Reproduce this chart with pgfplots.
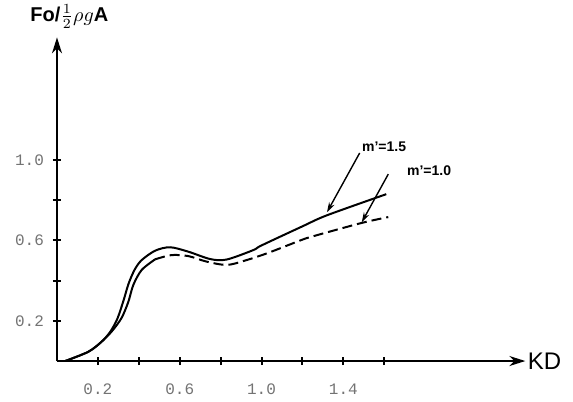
\documentclass[border=0pt]{standalone}
\usepackage{pgfplots}
\pgfplotsset{compat=1.18}
\usepackage{fontspec}
\setmainfont{Liberation Sans}
\newfontfamily\monofont{Liberation Mono}
\usetikzlibrary{arrows.meta}
\begin{document}
\begin{tikzpicture}
\begin{axis}[
  x=102.25pt, y=100.5pt,
  xmin=0, xmax=2.29, ymin=0, ymax=1.61,
  axis lines=left,
  axis line style={line width=1pt, -{Stealth[length=8pt,width=5pt]}},
  xtick={0.2,0.4,0.6,0.8,1.0,1.2,1.4,1.6},
  xticklabels={0.2,,0.6,,1.0,,1.4,},
  ytick={0.2,0.4,0.6,0.8,1.0},
  yticklabels={0.2,,0.6,,1.0},
  tick align=center, major tick length=4pt,
  tick style={line width=1pt, black},
  xticklabel style={font=\monofont\fontsize{8}{8}\selectfont, text=black!55, yshift=-6pt},
  yticklabel style={font=\monofont\fontsize{8}{8}\selectfont, text=black!55, xshift=-1pt},
  clip=false,
]
% m'=1.5 (solid)
\addplot[black, line width=1pt, smooth] coordinates {
(0.04,0) (0.153,0.046) (0.218,0.096) (0.26,0.145) (0.295,0.21) (0.325,0.30)
(0.35,0.385) (0.38,0.455) (0.414,0.502) (0.48,0.549) (0.553,0.566)
(0.642,0.544) (0.75,0.507) (0.83,0.505) (0.96,0.552) (1.0,0.575)
(1.2,0.67) (1.32,0.725) (1.61,0.83)};
% m'=1.0 (solid in rise, dashed after)
\addplot[black, line width=1pt, smooth] coordinates {
(0.04,0) (0.153,0.046) (0.218,0.096) (0.27,0.15) (0.316,0.215)
(0.349,0.295) (0.373,0.378) (0.414,0.453) (0.48,0.506)};
\addplot[black, line width=1pt, smooth, dash pattern=on 5pt off 2.5pt] coordinates {
(0.48,0.506) (0.56,0.527) (0.642,0.522) (0.73,0.495) (0.83,0.478)
(0.92,0.50) (1.03,0.537) (1.19,0.60) (1.25,0.62) (1.49,0.687) (1.62,0.716)};

\draw[line width=0.7pt, -{Stealth[length=5pt,width=3pt]}] (axis cs:1.48,1.035) -- (axis cs:1.32,0.74);
\draw[line width=0.7pt, -{Stealth[length=5pt,width=3pt]}] (axis cs:1.62,0.93) -- (axis cs:1.49,0.69);
\node[anchor=west, inner sep=0pt, font=\bfseries\fontsize{7}{7}\selectfont] at (axis cs:1.49,1.065) {m’=1.5};
\node[anchor=west, inner sep=0pt, font=\bfseries\fontsize{7}{7}\selectfont] at (axis cs:1.71,0.945) {m’=1.0};
\node[anchor=west, inner sep=0pt, font=\fontsize{12}{12}\selectfont] at (axis cs:2.30,0) {KD};

\coordinate (ylab) at (axis cs:0,1.69);
\coordinate (bl) at (axis cs:-0.2787,-0.199);
\coordinate (tr) at (axis cs:2.523,1.796);
\end{axis}
\node[anchor=base west, inner sep=0pt, font=\bfseries\fontsize{10}{10}\selectfont] at ([xshift=-13.5pt]ylab) {Fo/$\frac{1}{2}\rho g$A};
\pgfresetboundingbox
\path[use as bounding box] (bl) rectangle (tr);
\end{tikzpicture}
\end{document}
